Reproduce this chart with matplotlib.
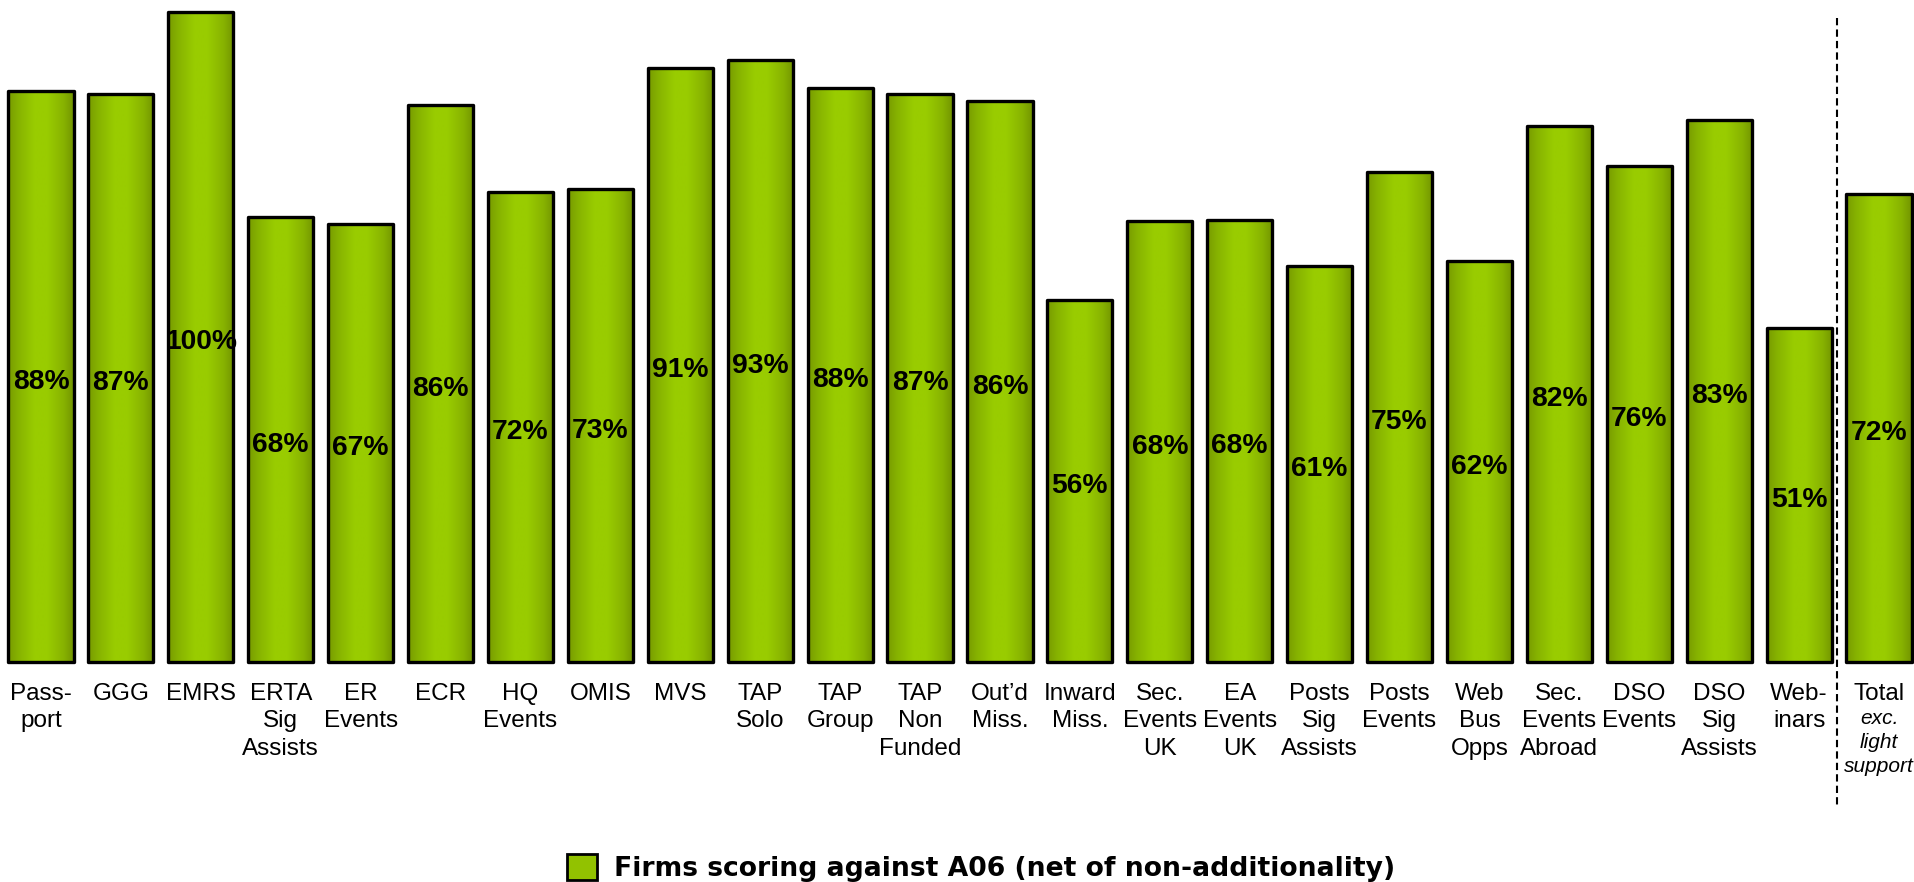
import numpy as np
import matplotlib
matplotlib.use("Agg")
import matplotlib.pyplot as plt
from matplotlib.colors import LinearSegmentedColormap
from matplotlib.patches import Patch

categories = ["Pass-\nport", "GGG", "EMRS", "ERTA\nSig\nAssists", "ER\nEvents", "ECR",
              "HQ\nEvents", "OMIS", "MVS", "TAP\nSolo", "TAP\nGroup", "TAP\nNon\nFunded",
              "Out\u2019d\nMiss.", "Inward\nMiss.", "Sec.\nEvents\nUK", "EA\nEvents\nUK",
              "Posts\nSig\nAssists", "Posts\nEvents", "Web\nBus\nOpps", "Sec.\nEvents\nAbroad",
              "DSO\nEvents", "DSO\nSig\nAssists", "Web-\ninars", "Total"]
values = [87.8, 87.3, 100, 68.4, 67.4, 85.7, 72.3, 72.7, 91.4, 92.6, 88.2, 87.3, 86.2,
          55.6, 67.8, 67.9, 60.9, 75.3, 61.6, 82.4, 76.3, 83.4, 51.4, 72.0]
total_note = "exc.\nlight\nsupport"
legend_label = "Firms scoring against A06 (net of non-additionality)"

plt.rcParams['font.family'] = ['Liberation Sans', 'DejaVu Sans']

fig = plt.figure(figsize=(19.15, 8.82), dpi=100)
ax = fig.add_axes([0.0, 0.25, 1.0, 0.98673 - 0.25])

x = np.arange(len(values))
bars = ax.bar(x, values, width=0.815, facecolor='none', edgecolor='black',
              linewidth=2.4, zorder=3)

cmap = LinearSegmentedColormap.from_list(
    'g', [(0, '#779a00'), (0.15, '#86b200'), (0.4, '#99cc00'), (0.6, '#99cc00'),
          (0.85, '#87b200'), (1, '#729400')])
grad = np.linspace(0, 1, 256).reshape(1, -1)
for rect in bars:
    rect.set_clip_on(False)
    rect.set_joinstyle('round')
    x0, y0 = rect.get_x(), rect.get_y()
    w, h = rect.get_width(), rect.get_height()
    im = ax.imshow(grad, cmap=cmap, extent=[x0, x0 + w, y0, y0 + h], aspect='auto',
                   zorder=2, interpolation='bilinear')
    im.set_clip_path(rect)

for xi, v in zip(x, values):
    ax.annotate(f"{round(v)}%", xy=(xi, v / 2), xytext=(0, -1.8), textcoords='offset points',
                ha='center', va='center_baseline', fontsize=20.3,
                fontweight='bold', color='black', zorder=5)

ax.set_xlim(-0.513, 23.45)
ax.set_ylim(0, 100)
ax.set_xticks(x)
ax.set_xticklabels(categories, fontsize=17.5, linespacing=1.31)
ax.tick_params(axis='x', length=0, pad=15.5)
ax.set_yticks([])
for s in ax.spines.values():
    s.set_visible(False)

# italic note under Total
ax.annotate(total_note, xy=(x[-1], 0), xycoords='data', xytext=(0, -34),
            textcoords='offset points', ha='center', va='top', fontsize=15,
            style='italic', linespacing=1.34, annotation_clip=False)

# dashed separator
ax.plot([22.47, 22.47], [99.0, -22.2], color='black', lw=1.5, dashes=(3.5, 2),
        clip_on=False, zorder=4)

fig.legend(handles=[Patch(facecolor='#92c200', edgecolor='black', linewidth=2)],
           labels=[legend_label], loc='center', bbox_to_anchor=(0.5125, 0.0158),
           frameon=False, handlelength=1.1, handleheight=1.1, handletextpad=0.67,
           prop=dict(family='DejaVu Sans', weight='bold', size=19.2))

fig.savefig("out.png", dpi=100)
